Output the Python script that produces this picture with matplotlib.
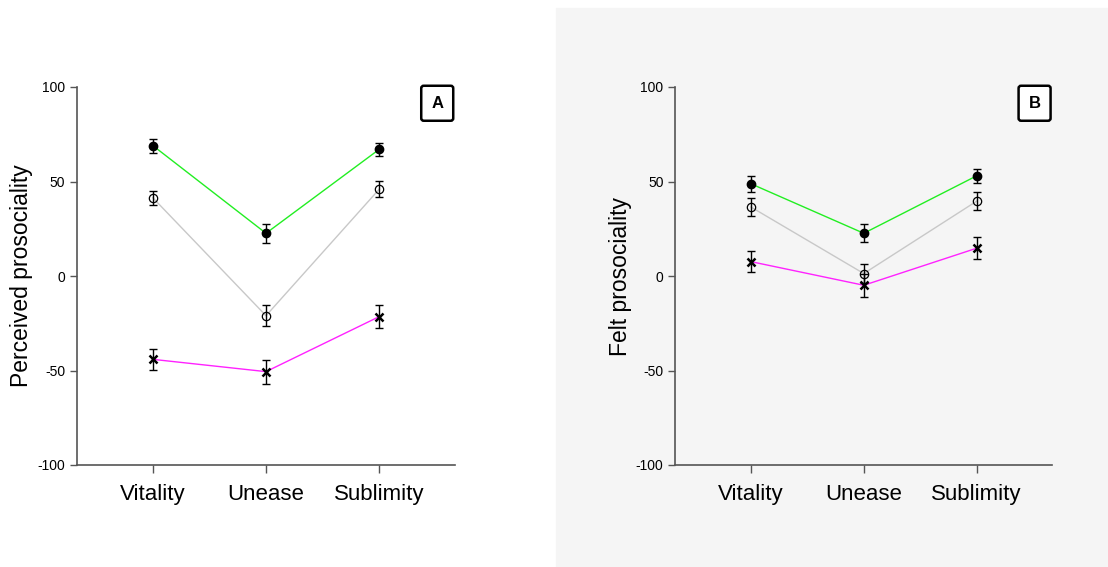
import numpy as np
import matplotlib.pyplot as plt
from matplotlib.patches import Rectangle

plt.rcParams['font.family'] = ['Liberation Sans', 'DejaVu Sans']
plt.rcParams['axes.unicode_minus'] = False

# --------------------------
# data
# --------------------------
categories = ["Vitality", "Unease", "Sublimity"]

# panel A: perceived prosociality
a_filled = [69, 22.6, 67]
a_filled_err = [3.7, 5.0, 3.5]
a_open = [41.4, -21, 45.9]
a_open_err = [3.8, 5.5, 4.3]
a_cross = [-44.1, -50.6, -21.5]
a_cross_err = [5.7, 6.3, 6.0]

# panel B: felt prosociality
b_filled = [48.8, 22.6, 53]
b_filled_err = [4.3, 4.8, 3.8]
b_open = [36.5, 1.3, 39.6]
b_open_err = [4.6, 5.2, 4.6]
b_cross = [7.6, -4.9, 14.7]
b_cross_err = [5.5, 6.1, 5.7]

yticks = [-100, -50, 0, 50, 100]

W, H = 1108, 567
fig = plt.figure(figsize=(W / 100, H / 100), dpi=100)

# grey background behind panel B
fig.patches.append(Rectangle((556 / W, 0), 1 - 556 / W, (H - 8) / H,
                             transform=fig.transFigure, color="#f5f5f5", zorder=-5))


def draw_panel(ax, filled, filled_err, opn, opn_err, cross, cross_err, ylabel, letter):
    x = np.arange(len(categories))
    ax.set_facecolor("none")

    # connecting lines
    ax.plot(x, filled, color="#22ee22", lw=1.0, zorder=2)
    ax.plot(x, opn, color="#c8c8c8", lw=1.0, zorder=2)
    ax.plot(x, cross, color="#ff22ff", lw=1.0, zorder=2)

    # error bars
    for vals, errs in [(filled, filled_err), (opn, opn_err), (cross, cross_err)]:
        ax.errorbar(x, vals, yerr=errs, fmt="none", ecolor="black", elinewidth=1.0,
                    capsize=3, capthick=1.0, zorder=3)

    # markers
    ax.plot(x, filled, "o", ms=6, mfc="black", mec="black", zorder=4)
    ax.plot(x, opn, "o", ms=6, mfc="none", mec="black", mew=0.9, zorder=4)
    ax.plot(x, cross, "x", ms=6, mec="black", mew=1.8, zorder=4)

    ax.set_xlim(-0.67, 2.67)
    ax.set_ylim(-100, 100)
    ax.set_yticks(yticks)
    ax.set_xticks(x)
    ax.set_xticklabels(categories, fontsize=16)
    ax.tick_params(axis="y", labelsize=10, length=5, color="#555555", width=1)
    ax.tick_params(axis="x", length=6, color="#555555", width=1, pad=8)

    for s in ["top", "right"]:
        ax.spines[s].set_visible(False)
    for s in ["left", "bottom"]:
        ax.spines[s].set_color("#555555")
        ax.spines[s].set_linewidth(1.2)

    ax.set_ylabel(ylabel, fontsize=16.5)
    ax.yaxis.set_label_coords(-0.116, 0.5)

    ax.text(0.953, 0.957, letter, transform=ax.transAxes, ha="center", va="center",
            fontsize=12, fontweight="bold",
            bbox=dict(boxstyle="round,pad=0.6,rounding_size=0.15", fc="white",
                      ec="black", lw=1.8))


axA = fig.add_axes([77 / W, 1 - 465 / H, 378 / W, 378 / H])
draw_panel(axA, a_filled, a_filled_err, a_open, a_open_err, a_cross, a_cross_err,
           "Perceived prosociality", "A")

axB = fig.add_axes([675.3 / W, 1 - 465 / H, 377 / W, 378 / H])
draw_panel(axB, b_filled, b_filled_err, b_open, b_open_err, b_cross, b_cross_err,
           "Felt prosociality", "B")

fig.savefig("out.png", dpi=100)
